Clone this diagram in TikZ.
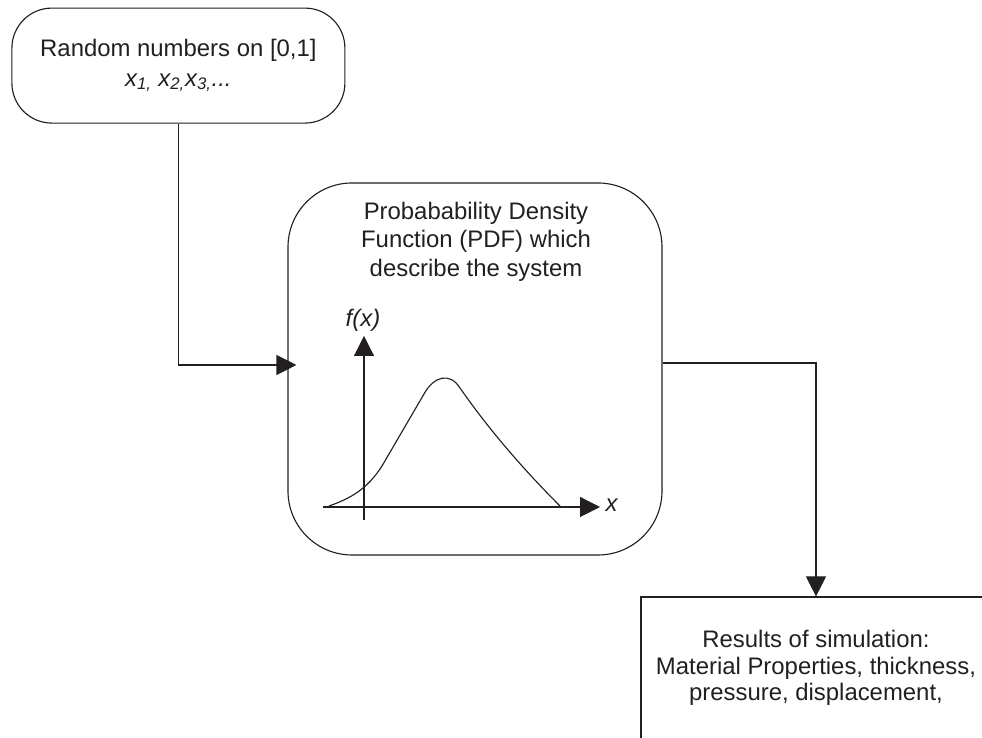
\documentclass[tikz,border=0pt]{standalone}
\usepackage{fontspec}
\setmainfont{Liberation Sans}
\usetikzlibrary{arrows.meta, positioning}
\definecolor{inkgray}{RGB}{35,31,32}

\begin{document}
\begin{tikzpicture}[color=inkgray, line width=0.8pt]
                \tikzset{roundbox/.style={draw, rounded corners=#1, align=center, inner sep=0pt},
                 flow/.style={-{Triangle[length=0.5cm, width=0.5cm]}},
                 every node/.style={font=\fontsize{17}{21}\selectfont}}

                \useasboundingbox (0,0) rectangle (24.55,18.45);
                \clip (0,0) rectangle (24.55,18.45);

                \node[roundbox=1cm, minimum width=8.325cm, minimum height=2.875cm] (rnd) at (4.46,16.81)
                    {Random numbers on [0,1]\\ \textit{x\textsubscript{1,} x\textsubscript{2,}x\textsubscript{3,}...}};

                \node[roundbox=1.6cm, minimum width=9.35cm, minimum height=9.3cm] (pdf) at (11.875,9.225) {};
                \node[align=center, font=\fontsize{17}{20.3}\selectfont] (pdftext) at (11.9,12.41)
                    {Probabability Density\\ Function (PDF) which\\ describe the system};

                \node[draw, align=center, minimum width=8.75cm, minimum height=3.55cm, font=\fontsize{17}{19}\selectfont] (res) at (20.4,1.75)
                    {Results of simulation:\\ Material Properties, thickness,\\ pressure, displacement,};

                \draw[flow, shorten >=-0.225cm] (rnd.south) |- ([yshift=0.1cm]pdf.west);
                \draw[flow] ([yshift=0.15cm]pdf.east) -| (res.north);

                % axes of the density plot
                \draw[flow] (9.1,5.45) -- (9.1,10.05);
                \draw[flow] (8.075,5.775) -- (15.0,5.775);
                \node (fx) at (9.075,10.45) {\textit{f(x)}};
                \node (xlab) at (15.3,5.825) {\textit{x}};

                \draw (8.225,5.8) .. controls (8.8,6.0) and (9.2,6.25) .. (9.55,6.8)
                    -- (10.6,8.6) .. controls (10.85,9.05) and (11.25,9.15) .. (11.5,8.75)
                    .. controls (12.3,7.6) and (13.2,6.6) .. (14.0,5.8);
            \end{tikzpicture}
\end{document}
